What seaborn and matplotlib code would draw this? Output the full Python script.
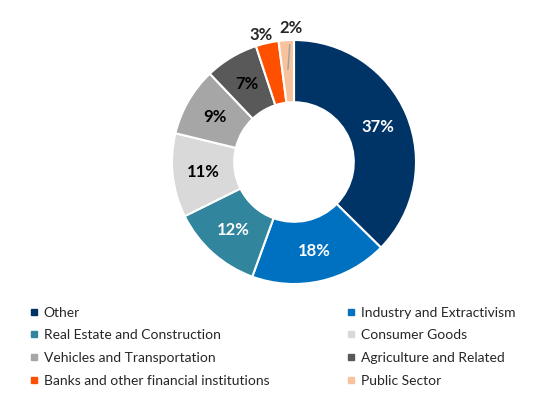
import seaborn as sns
import matplotlib.pyplot as plt
from matplotlib.lines import Line2D
import numpy as np

# Datos del gráfico (participación por sector, %)
sectores = ["Other", "Industry and Extractivism", "Real Estate and Construction",
            "Consumer Goods", "Vehicles and Transportation", "Agriculture and Related",
            "Banks and other financial institutions", "Public Sector"]
valores = [37, 18, 12, 11, 9, 7, 3, 2]
etiquetas = ["37%", "18%", "12%", "11%", "9%", "7%", "3%", "2%"]
colores = ["#003366", "#0070C0", "#31859C", "#D9D9D9",
           "#A6A6A6", "#595959", "#FF5000", "#F8C39C"]
color_texto = ["white", "white", "white", "black", "black", "black", "black", "black"]

sns.set_theme(style="white")
plt.rcParams["font.family"] = ["Lato", "DejaVu Sans"]

fig = plt.figure(figsize=(5.37, 3.96), dpi=100)
ax = fig.add_axes([0.3203, 0.2828, 0.4544, 0.6162])

paleta = sns.color_palette(colores)
wedges, _ = ax.pie(valores, colors=paleta, startangle=90, counterclock=False,
                   wedgeprops=dict(width=0.51, edgecolor="white", linewidth=1.5))
ax.set_xlim(-1, 1)
ax.set_ylim(-1, 1)
ax.set_aspect("equal")
ax.axis("off")

# Etiquetas de porcentaje dentro del anillo
for w, lab, c in zip(wedges[:6], etiquetas[:6], color_texto[:6]):
    ang = np.deg2rad((w.theta1 + w.theta2) / 2)
    ax.text(0.745 * np.cos(ang), 0.745 * np.sin(ang), lab, ha="center", va="center",
            fontsize=12, fontweight="bold", color=c)

# Porcentajes pequeños justo encima del anillo
ax.text(-0.27, 1.045, etiquetas[6], ha="center", va="center", fontsize=12,
        fontweight="bold", clip_on=False)
w2 = wedges[7]
a2 = np.deg2rad((w2.theta1 + w2.theta2) / 2)
ax.annotate(etiquetas[7], xy=(0.78 * np.cos(a2), 0.76 * np.sin(a2)), xytext=(-0.025, 1.10),
            ha="center", va="center", fontsize=12, fontweight="bold",
            arrowprops=dict(arrowstyle="-", color="#A0A0A0", lw=1,
                            shrinkA=4, shrinkB=0),
            annotation_clip=False)

# Leyenda en dos columnas (orden por filas)
orden = [0, 2, 4, 6, 1, 3, 5, 7]
handles = [Line2D([], [], marker="s", linestyle="none", markersize=5,
                  color=colores[i]) for i in orden]
fig.legend(handles, [sectores[i] for i in orden], ncol=2, loc="upper left",
           bbox_to_anchor=(0.045, 0.24), frameon=False, fontsize=10,
           handlelength=0.6, handletextpad=0.4, labelspacing=0.77,
           columnspacing=5.6, borderaxespad=0)

plt.savefig("out.png", dpi=100)
